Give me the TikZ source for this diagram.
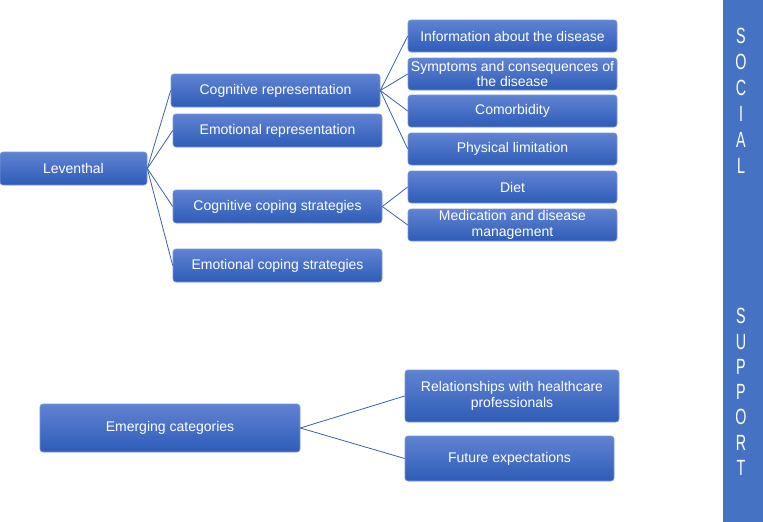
\documentclass[tikz,border=0pt]{standalone}
\usepackage{fontspec}
\setmainfont{Liberation Sans}
\usetikzlibrary{positioning}
\definecolor{boxTop}{RGB}{96,131,210}
\definecolor{boxBottom}{RGB}{46,92,184}
\definecolor{boxEdge}{RGB}{120,150,215}
\definecolor{barBlue}{RGB}{70,114,196}
\definecolor{linkBlue}{RGB}{60,95,170}

\begin{document}
\begin{tikzpicture}[x=1pt, y=-1pt, every node/.style={font=\fontsize{14}{15.5}\selectfont, align=center, text=white},
  catbox/.style={draw=boxEdge, line width=0.6pt, rounded corners=3pt, top color=boxTop, bottom color=boxBottom, inner sep=1pt},
  link/.style={draw=linkBlue, line width=0.8pt}]
\useasboundingbox (0,0) rectangle (763,522);

% Root
\node[catbox, minimum width=147pt, minimum height=33pt] (leventhal) at (73.5,168.5) {Leventhal};

% Second level
\node[catbox, minimum width=209pt, minimum height=33pt] (cogrep) at (275.5,90.5) {Cognitive representation};
\node[catbox, minimum width=209pt, minimum height=33pt] (emorep) at (277.5,130.5) {Emotional representation};
\node[catbox, minimum width=209pt, minimum height=33pt] (cogcop) at (277.5,206.5) {Cognitive coping strategies};
\node[catbox, minimum width=209pt, minimum height=33pt] (emocop) at (277.5,265.5) {Emotional coping strategies};

% Third level
\node[catbox, minimum width=209pt, minimum height=32pt] (info) at (512.5,36) {Information about the disease};
\node[catbox, minimum width=209pt, minimum height=32pt] (symptoms) at (512.5,74) {Symptoms and consequences of\\the disease};
\node[catbox, minimum width=209pt, minimum height=32pt] (comorb) at (512.5,111) {Comorbidity};
\node[catbox, minimum width=209pt, minimum height=32pt] (physical) at (512.5,149) {Physical limitation};
\node[catbox, minimum width=209pt, minimum height=32pt] (diet) at (512.5,187) {Diet};
\node[catbox, minimum width=209pt, minimum height=32pt] (medication) at (512.5,225) {Medication and disease\\management};

% Emerging categories
\node[catbox, minimum width=260pt, minimum height=48pt] (emerging) at (170,428) {Emerging categories};
\node[catbox, minimum width=214pt, minimum height=52pt] (relations) at (512,396) {Relationships with healthcare\\professionals};
\node[catbox, minimum width=209pt, minimum height=45pt] (future) at (509.5,458.5) {Future expectations};

% Side bar
\fill[barBlue] (723,0) rectangle (763,522);
\node[font=\fontsize{22}{26}\selectfont, xscale=0.65, transform shape] (social) at (741,101) {S\\O\\C\\I\\A\\L};
\node[font=\fontsize{22}{25.3}\selectfont, xscale=0.65, transform shape] (support) at (741,392) {S\\U\\P\\P\\O\\R\\T};

% Links
\foreach \n in {cogrep, emorep, cogcop, emocop}
  \draw[link] (leventhal.east) -- (\n.west);
\foreach \n in {info, symptoms, comorb, physical}
  \draw[link] (cogrep.east) -- (\n.west);
\foreach \n in {diet, medication}
  \draw[link] (cogcop.east) -- (\n.west);
\foreach \n in {relations, future}
  \draw[link] (emerging.east) -- (\n.west);
\end{tikzpicture}
\end{document}
